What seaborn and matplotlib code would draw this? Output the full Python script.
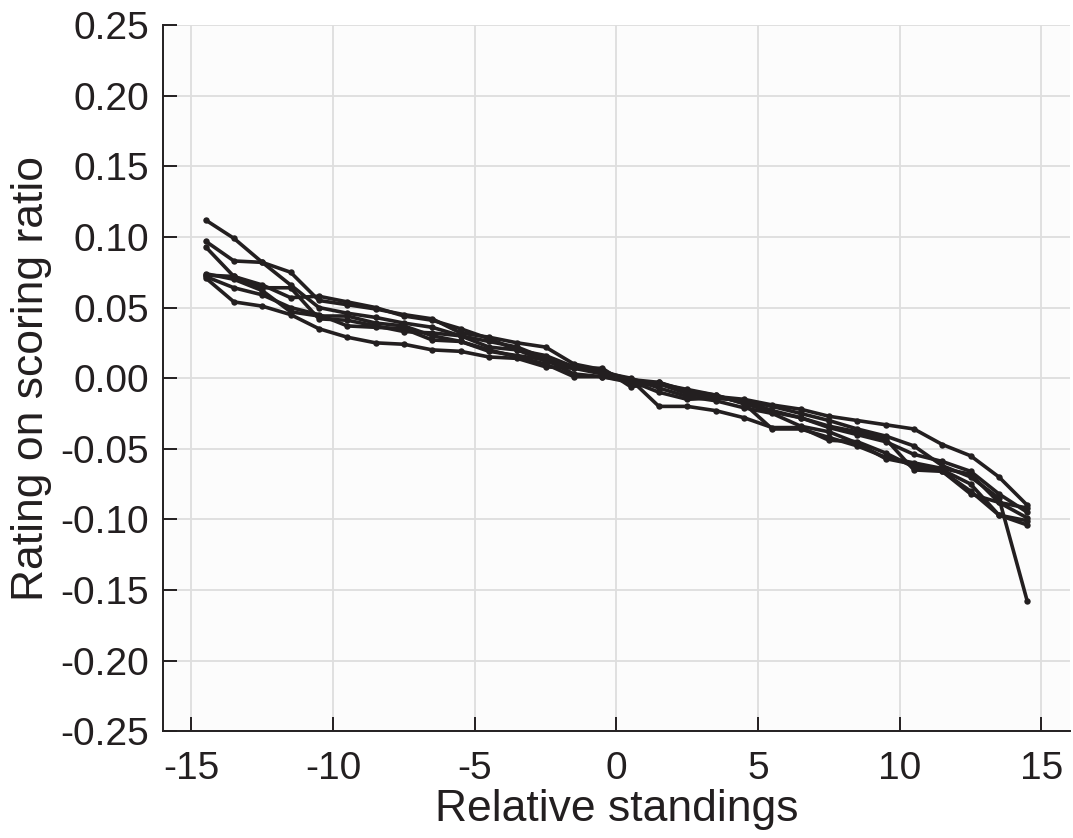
import numpy as np
import pandas as pd
import matplotlib
matplotlib.use("Agg")
import matplotlib.pyplot as plt
import seaborn as sns

# Relative standing positions (half-integer offsets, both sides of zero)
standings = [-14.5, -13.5, -12.5, -11.5, -10.5, -9.5, -8.5, -7.5, -6.5, -5.5,
             -4.5, -3.5, -2.5, -1.5, -0.5, 0.5, 1.5, 2.5, 3.5, 4.5,
             5.5, 6.5, 7.5, 8.5, 9.5, 10.5, 11.5, 12.5, 13.5, 14.5]

# Rating on scoring ratio for each run
run_1 = [0.112, 0.099, 0.082, 0.066, 0.050, 0.046, 0.043, 0.039, 0.036, 0.030,
         0.026, 0.022, 0.014, 0.008, 0.005, -0.001, -0.003, -0.009, -0.012, -0.018,
         -0.024, -0.028, -0.035, -0.040, -0.045, -0.054, -0.059, -0.066, -0.082, -0.095]
run_2 = [0.097, 0.083, 0.082, 0.075, 0.055, 0.052, 0.049, 0.045, 0.042, 0.032,
         0.029, 0.025, 0.022, 0.010, 0.006, -0.004, -0.003, -0.010, -0.013, -0.015,
         -0.019, -0.022, -0.027, -0.030, -0.033, -0.036, -0.047, -0.055, -0.070, -0.090]
run_3 = [0.093, 0.072, 0.066, 0.057, 0.058, 0.054, 0.050, 0.044, 0.041, 0.035,
         0.028, 0.020, 0.016, 0.008, 0.004, 0.000, -0.007, -0.013, -0.016, -0.021,
         -0.025, -0.034, -0.038, -0.046, -0.057, -0.061, -0.066, -0.080, -0.097, -0.104]
run_4 = [0.073, 0.072, 0.064, 0.064, 0.042, 0.041, 0.037, 0.033, 0.032, 0.030,
         0.022, 0.020, 0.012, 0.007, 0.003, -0.001, -0.020, -0.020, -0.023, -0.028,
         -0.035, -0.035, -0.044, -0.045, -0.053, -0.063, -0.065, -0.075, -0.097, -0.101]
run_5 = [0.072, 0.064, 0.059, 0.050, 0.045, 0.037, 0.036, 0.035, 0.027, 0.026,
         0.020, 0.015, 0.010, 0.001, 0.001, -0.003, -0.004, -0.011, -0.014, -0.016,
         -0.020, -0.025, -0.030, -0.036, -0.041, -0.048, -0.062, -0.070, -0.085, -0.158]
run_6 = [0.071, 0.054, 0.051, 0.045, 0.035, 0.029, 0.025, 0.024, 0.020, 0.019,
         0.015, 0.014, 0.008, 0.007, 0.007, -0.006, -0.004, -0.008, -0.012, -0.018,
         -0.036, -0.036, -0.042, -0.048, -0.056, -0.060, -0.064, -0.068, -0.088, -0.099]
run_7 = [0.074, 0.070, 0.062, 0.047, 0.044, 0.044, 0.039, 0.037, 0.030, 0.026,
         0.019, 0.016, 0.013, 0.003, 0.001, -0.002, -0.010, -0.015, -0.014, -0.016,
         -0.023, -0.028, -0.034, -0.038, -0.043, -0.065, -0.066, -0.082, -0.088, -0.092]

runs = [run_1, run_2, run_3, run_4, run_5, run_6, run_7]

x_ticks = [-15, -10, -5, 0, 5, 10, 15]
x_tick_labels = ["-15", "-10", "-5", "0", "5", "10", "15"]
y_ticks = [-0.25, -0.20, -0.15, -0.10, -0.05, 0.00, 0.05, 0.10, 0.15, 0.20, 0.25]
y_tick_labels = ["-0.25", "-0.20", "-0.15", "-0.10", "-0.05", "0.00",
                 "0.05", "0.10", "0.15", "0.20", "0.25"]

frames = []
for i, vals in enumerate(runs):
    frames.append(pd.DataFrame({"standing": standings, "rating": vals, "run": i}))
df = pd.concat(frames, ignore_index=True)

sns.set_theme(style="whitegrid")
plt.rcParams["font.family"] = ["Liberation Sans", "DejaVu Sans"]

line_color = "#231f20"

fig = plt.figure(figsize=(10.73, 8.38), dpi=100)
ax = fig.add_axes([0.152, 0.1275, 0.845, 0.8425])
ax.set_facecolor("#fcfcfc")

sns.lineplot(data=df, x="standing", y="rating", units="run", estimator=None,
             color=line_color, linewidth=2.6, marker="o", markersize=4.6,
             markeredgewidth=0, ax=ax, legend=False)

ax.set_xlim(-16, 16)
ax.set_ylim(-0.25, 0.25)
ax.set_xticks(x_ticks)
ax.set_xticklabels(x_tick_labels)
ax.set_yticks(y_ticks)
ax.set_yticklabels(y_tick_labels)

ax.grid(True, color="#dedede", linewidth=1.3)
ax.set_axisbelow(True)

for side in ["top", "right"]:
    ax.spines[side].set_visible(False)
for side in ["left", "bottom"]:
    ax.spines[side].set_visible(True)
    ax.spines[side].set_color(line_color)
    ax.spines[side].set_linewidth(1.4)

ax.tick_params(axis="both", direction="in", length=10, width=1.4,
               colors=line_color, labelsize=28, pad=10,
               left=True, bottom=True)
ax.tick_params(axis="x", pad=14)

ax.set_xlabel("Relative standings", fontsize=32, color=line_color, labelpad=2)
ax.set_ylabel("Rating on scoring ratio", fontsize=32, color=line_color, labelpad=6)

fig.savefig("out.png", dpi=100, facecolor="white")
